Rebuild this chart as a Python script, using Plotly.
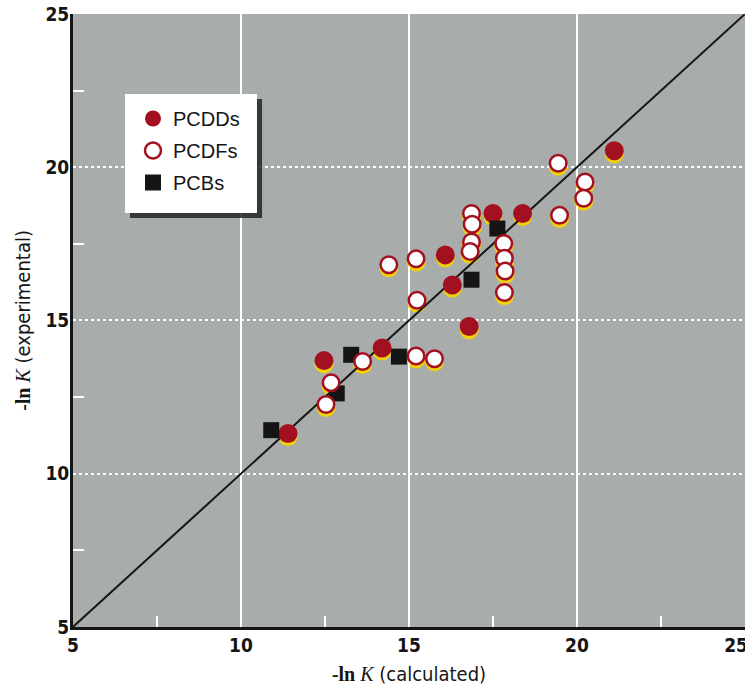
import plotly.graph_objects as go

# ---- data ----
pcdd_x = [21.11, 17.50, 18.38, 16.08, 16.29, 16.79, 14.20, 12.47, 11.40]
pcdd_y = [20.54, 18.49, 18.49, 17.14, 16.16, 14.80, 14.10, 13.69, 11.31]

pcdf_x = [19.44, 20.24, 20.20, 19.48, 16.86, 16.88, 16.86, 16.82, 17.82, 17.84,
          17.86, 17.84, 14.40, 15.21, 15.24, 13.62, 15.21, 15.76, 12.68, 12.53]
pcdf_y = [20.13, 19.52, 18.99, 18.43, 18.49, 18.14, 17.56, 17.25, 17.51, 17.03,
          16.61, 15.91, 16.82, 17.01, 15.66, 13.66, 13.84, 13.75, 12.97, 12.26]

pcb_x = [17.63, 16.86, 13.28, 14.70, 12.85, 10.90]
pcb_y = [18.00, 16.33, 13.88, 13.82, 12.62, 11.42]

identity_line = [5, 25]
tick_vals = [5, 10, 15, 20, 25]
x_tick_text = ["5", "10", "15", "20", "25\u00a0\u00a0\u00a0"]
y_tick_text = ["5", "10", "15", "20", "25"]
minor_vals = [7.5, 12.5, 17.5, 22.5]

RED = "#a3101f"
YEL = "#f0d20a"
GRAY = "#a8adac"
INK = "#151515"
TICKFONT = dict(family="Liberation Sans Narrow, DejaVu Sans Condensed, sans-serif",
                size=19, color=INK, weight="bold")
TITLEFONT = dict(family="Liberation Sans Narrow, DejaVu Sans Condensed, sans-serif",
                 size=20, color=INK)

fig = go.Figure()

# yellow mis-registration shadows (lower, slightly shifted subplot)
fig.add_trace(go.Scatter(x=pcdd_x, y=pcdd_y, xaxis="x", yaxis="y", mode="markers",
                         marker=dict(size=19, color=YEL), showlegend=False, hoverinfo="skip"))
fig.add_trace(go.Scatter(x=pcdf_x, y=pcdf_y, xaxis="x", yaxis="y", mode="markers",
                         marker=dict(size=19, color=YEL), showlegend=False, hoverinfo="skip"))

# main subplot
fig.add_trace(go.Scatter(x=identity_line, y=identity_line, xaxis="x", yaxis="y2", mode="lines",
                         line=dict(color=INK, width=2), showlegend=False, hoverinfo="skip"))
fig.add_trace(go.Scatter(x=pcdd_x, y=pcdd_y, xaxis="x", yaxis="y2", mode="markers",
                         name="PCDDs", legendgroup="a", legendrank=1,
                         marker=dict(size=19, color=RED)))
fig.add_trace(go.Scatter(x=pcb_x, y=pcb_y, xaxis="x", yaxis="y2", mode="markers",
                         name="PCBs", legendgroup="c", legendrank=3,
                         marker=dict(size=16, symbol="square", color=INK)))
fig.add_trace(go.Scatter(x=pcdf_x, y=pcdf_y, xaxis="x", yaxis="y2", mode="markers",
                         name="PCDFs", legendgroup="b", legendrank=2,
                         marker=dict(size=16.5, color="white", line=dict(color=RED, width=2.5))))

axis_common = dict(range=[5, 25], tickvals=tick_vals, automargin=False,
                   showgrid=True, gridcolor="white", gridwidth=2, griddash="dot",
                   showline=True, linecolor=INK, linewidth=3, ticks="", zeroline=False,
                   tickfont=TICKFONT, ticklabeloverflow="allow",
                   minor=dict(tickvals=minor_vals, ticks="inside", ticklen=11,
                              tickwidth=2, tickcolor="white", showgrid=False))

fig.update_layout(
    width=745, height=686,
    margin=dict(l=73, r=0, t=14, b=56),
    paper_bgcolor="white", plot_bgcolor="rgba(0,0,0,0)",
    xaxis=dict(axis_common, domain=[0, 1], anchor="y2", ticklabelstandoff=-1,
               ticktext=x_tick_text,
               title=dict(text="<span style='font-family:Liberation Serif'><b>-ln</b> <i>K</i></span> (calculated)",
                          font=TITLEFONT, standoff=13)),
    yaxis=dict(range=[5, 25], domain=[0, 0.995], anchor="x", visible=False,
               showgrid=False, zeroline=False),
    yaxis2=dict(axis_common, domain=[0.005, 1], anchor="x", ticklabelstandoff=-3,
                ticktext=y_tick_text,
                title=dict(text="<span style='font-family:Liberation Serif'><b>-ln</b> <i>K</i></span> (experimental)",
                           font=TITLEFONT, standoff=10)),
    legend=dict(x=0.0893, y=0.862, xanchor="left", yanchor="top",
                bgcolor="rgba(0,0,0,0)", borderwidth=0, tracegroupgap=3,
                font=dict(family="Liberation Sans, Arial, sans-serif", size=20, color=INK),
                itemsizing="trace"),
    shapes=[
        dict(type="rect", xref="paper", yref="paper", x0=0, x1=1, y0=0.005, y1=1,
             fillcolor=GRAY, line=dict(width=0), layer="below"),
        dict(type="rect", xref="paper", yref="paper", x0=0.0848, x1=0.2813, y0=0.669, y1=0.862,
             fillcolor="rgba(35,35,35,0.85)", line=dict(width=0), layer="above"),
        dict(type="rect", xref="paper", yref="paper", x0=0.0774, x1=0.2738, y0=0.677, y1=0.870,
             fillcolor="white", line=dict(width=0), layer="above"),
    ],
)

fig.write_html("out.html", config={"displayModeBar": False},
               post_script="document.body.style.margin='0';document.body.style.overflow='hidden';")
